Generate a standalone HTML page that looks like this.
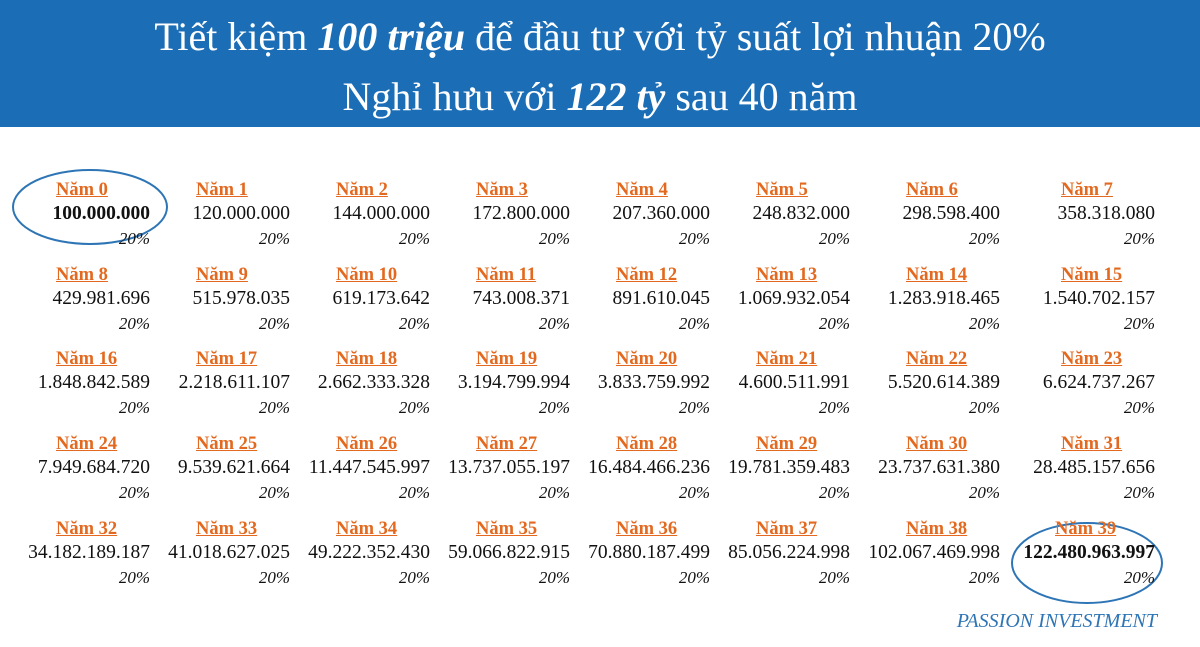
<!DOCTYPE html>
<html><head><meta charset="utf-8"><style>
body{margin:0;width:1200px;height:647px;background:#fff;overflow:hidden;position:relative;font-family:"Liberation Serif",serif}
#hdr{position:absolute;left:0;top:0;width:1200px;height:127px;background:#1b6db6;color:#fff;text-align:center;font-size:40px}
#hdr div{position:absolute;left:0;width:1200px;line-height:44px}
.t{position:absolute;white-space:nowrap;line-height:22px}
.lab{color:#e2691f;font-weight:bold;text-decoration:underline;font-size:18.5px}
.val{font-size:19.5px;color:#111;text-align:right}
.pct{font-size:17px;font-style:italic;color:#111;text-align:right}
</style></head><body>
<div id="hdr">
<div style="top:15px">Tiết kiệm <b><i>100 triệu</i></b> để đầu tư với tỷ suất lợi nhuận 20%</div>
<div style="top:75px">Nghỉ hưu với <b><i>122 tỷ</i></b> sau 40 năm</div>
</div>
<svg width="1200" height="647" style="position:absolute;left:0;top:0">
<ellipse cx="90" cy="207" rx="77" ry="37" fill="none" stroke="#2e75b6" stroke-width="2"/>
<ellipse cx="1087" cy="563" rx="75" ry="40" fill="none" stroke="#2e75b6" stroke-width="2"/>
</svg>
<div id="grid"></div>
<div class="t" style="left:880px;top:610px;width:277px;text-align:right;font-style:italic;color:#2e75b6;font-size:20px">PASSION INVESTMENT</div>
<script>
const years=[...Array(40).keys()];
const values=["100.000.000","120.000.000","144.000.000","172.800.000","207.360.000","248.832.000","298.598.400","358.318.080",
"429.981.696","515.978.035","619.173.642","743.008.371","891.610.045","1.069.932.054","1.283.918.465","1.540.702.157",
"1.848.842.589","2.218.611.107","2.662.333.328","3.194.799.994","3.833.759.992","4.600.511.991","5.520.614.389","6.624.737.267",
"7.949.684.720","9.539.621.664","11.447.545.997","13.737.055.197","16.484.466.236","19.781.359.483","23.737.631.380","28.485.157.656",
"34.182.189.187","41.018.627.025","49.222.352.430","59.066.822.915","70.880.187.499","85.056.224.998","102.067.469.998","122.480.963.997"];
const rates=Array(40).fill("20%");
const colRight=[150,290,430,570,710,850,1000,1155];
const g=document.getElementById('grid');
years.forEach((y,i)=>{
const c=i%8,r=Math.floor(i/8);
const R=colRight[c],top=179+r*84.7;
const l=document.createElement('div');
l.className='t lab';l.textContent='Năm '+y;
l.style.left=(R-94+(i==39?-6:0))+'px';l.style.top=top+'px';


g.appendChild(l);
const v=document.createElement('div');
v.className='t val';v.textContent=values[i];
v.style.left=(R-200)+'px';v.style.width='200px';v.style.top=(top+24)+'px';
if(i==0||i==39)v.style.fontWeight='bold';


g.appendChild(v);
const p=document.createElement('div');
p.className='t pct';p.textContent=rates[i];
p.style.left=(R-100)+'px';p.style.width='100px';p.style.top=(top+49)+'px';


g.appendChild(p);
});
</script>
</body></html>
